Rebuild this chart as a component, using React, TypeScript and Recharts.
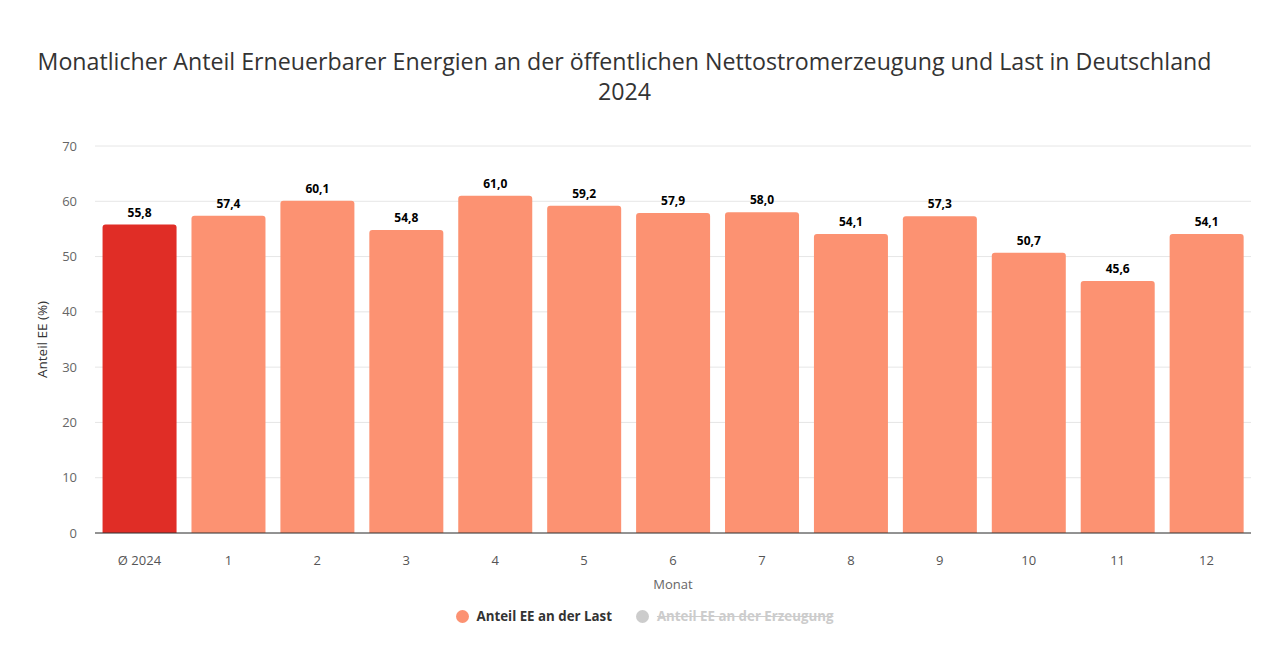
import React from "react";
import { BarChart, Bar, XAxis, YAxis, CartesianGrid, Cell, LabelList, Label } from "recharts";

const categories = ["Ø 2024", "1", "2", "3", "4", "5", "6", "7", "8", "9", "10", "11", "12"];
const anteilLast = [55.8, 57.4, 60.1, 54.8, 61.0, 59.2, 57.9, 58.0, 54.1, 57.3, 50.7, 45.6, 54.1];
const yTicks = [0, 10, 20, 30, 40, 50, 60, 70];

const data = categories.map((c, i) => ({ name: c, last: anteilLast[i] }));

const FONT = "'Open Sans', 'Noto Sans', sans-serif";
const W = 1263;
const H = 640;

export default function App() {
  return (
    <div style={{ position: "relative", width: W, height: H, fontFamily: FONT, background: "#fff" }}>
      <div
        style={{
          position: "absolute",
          left: -15,
          top: 38,
          width: W,
          textAlign: "center",
          fontSize: 23.2,
          lineHeight: "30px",
          color: "#333",
        }}
      >
        Monatlicher Anteil Erneuerbarer Energien an der öffentlichen Nettostromerzeugung und Last in Deutschland
        <br />
        2024
      </div>
      <BarChart
        width={W}
        height={H}
        data={data}
        margin={{ top: 138, right: 20, bottom: 85, left: 0 }}
        barCategoryGap="8.5%"
        style={{ position: "absolute", left: 0, top: 0 }}
      >
        <CartesianGrid vertical={false} stroke="#e6e6e6" />
        <XAxis
          dataKey="name"
          height={30}
          tickLine={false}
          tickSize={0}
          tickMargin={23}
          axisLine={{ stroke: "#333", strokeWidth: 1 }}
          tick={{ fill: "#555", fontSize: 13, fontFamily: FONT }}
          interval={0}
        />
        <YAxis
          width={87}
          domain={[0, 70]}
          ticks={yTicks}
          axisLine={false}
          tickLine={false}
          tickSize={0}
          tickMargin={18}
          tick={{ fill: "#666", fontSize: 13, fontFamily: FONT }}
        >
          <Label
            value="Anteil EE (%)"
            angle={-90}
            position="insideLeft"
            offset={34}
            style={{ fill: "#333", fontSize: 13.5, fontFamily: FONT, textAnchor: "middle" }}
          />
        </YAxis>
        <Bar dataKey="last" fill="#fc9272" radius={[3, 3, 0, 0]} isAnimationActive={false}>
          {data.map((d, i) => (
            <Cell key={i} fill={i === 0 ? "#e02d26" : "#fc9272"} />
          ))}
          <LabelList
            dataKey="last"
            position="top"
            offset={8}
            formatter={(v: any) => Number(v).toFixed(1).replace(".", ",")}
            style={{ fill: "#000", fontSize: 12, fontWeight: 700, fontFamily: FONT }}
          />
        </Bar>
      </BarChart>
      <div
        style={{
          position: "absolute",
          left: 87,
          top: 567,
          width: 1156,
          textAlign: "center",
          fontSize: 13,
          color: "#666",
        }}
      >
        Monat
      </div>
      <div
        style={{
          position: "absolute",
          top: 599,
          left: 5,
          width: W,
          display: "flex",
          justifyContent: "center",
          alignItems: "center",
          fontSize: 13.3,
          fontWeight: 700,
          gap: 0,
        }}
      >
        <span style={{ display: "inline-flex", alignItems: "center", marginRight: 24 }}>
          <span style={{ width: 13, height: 13, borderRadius: "50%", background: "#fc9272", display: "inline-block", marginRight: 8 }} />
          <span style={{ color: "#333" }}>Anteil EE an der Last</span>
        </span>
        <span style={{ display: "inline-flex", alignItems: "center" }}>
          <span style={{ width: 13, height: 13, borderRadius: "50%", background: "#ccc", display: "inline-block", marginRight: 8 }} />
          <span style={{ color: "#ccc", textDecoration: "line-through" }}>Anteil EE an der Erzeugung</span>
        </span>
      </div>
    </div>
  );
}
